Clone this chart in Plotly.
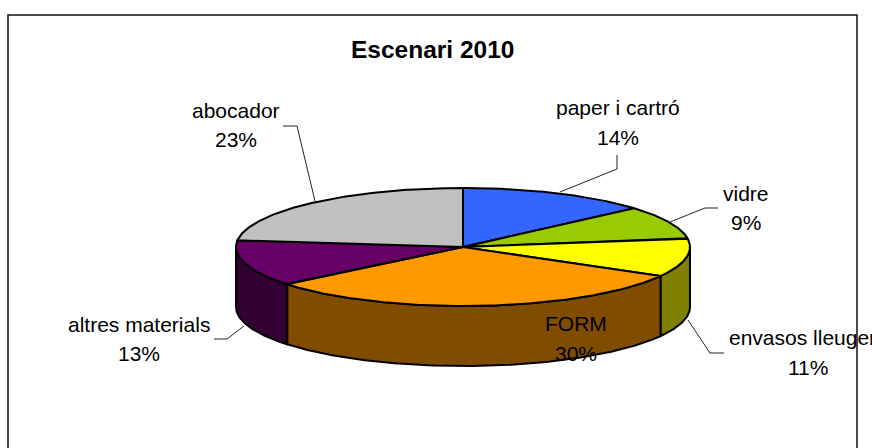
import math
import plotly.graph_objects as go

# Data
categories = ["paper i cartró", "vidre", "envasos lleugers", "FORM", "altres materials", "abocador"]
values = [13.6, 9.0, 10.6, 30.9, 12.7, 23.2]
percent_labels = ["14%", "9%", "11%", "30%", "13%", "23%"]
title_text = "Escenari 2010"

# Style
top_colors = ["#3366FF", "#99CC00", "#FFFF00", "#FF9900", "#660066", "#C0C0C0"]
side_colors = ["#1A3380", "#4D6600", "#808000", "#804D00", "#330033", "#606060"]
CX, CY, RX, RY, DEPTH = 463, 247, 227, 59, 60
FONT = "Liberation Sans, Arial, sans-serif"
FS = 21
LINE_GAP = 14.7
label_pos = [(618, 122.5), (746, 208), (808, 352.5), (576, 338.5), (139, 339), (236, 125)]
leaders = [
    [(560, 192), (617, 169), (617, 155)],
    [(670, 222), (705, 208), (718, 208)],
    [(688, 320), (710, 353), (724, 353)],
    None,
    [(244, 326), (227, 339), (214, 339)],
    [(315, 201), (297, 126), (283, 126)],
]


def pt(theta, dz=0):
    return CX + RX * math.sin(theta), CY - RY * math.cos(theta) + dz


def arc(a, b, dz=0, n=None):
    n = n or max(2, int(abs(b - a) / 0.01))
    return [pt(a + (b - a) * i / n, dz) for i in range(n + 1)]


total = sum(values)
bounds = [0.0]
for v in values:
    bounds.append(bounds[-1] + 2 * math.pi * v / total)

fig = go.Figure()

# side walls: only the front half (theta 90..270 deg) is visible
for i in range(len(values)):
    a = max(bounds[i], math.pi / 2)
    b = min(bounds[i + 1], 3 * math.pi / 2)
    if b <= a:
        continue
    poly = arc(a, b) + arc(b, a, DEPTH)
    poly.append(poly[0])
    fig.add_trace(go.Scatter(
        x=[p[0] for p in poly], y=[p[1] for p in poly], mode="lines", fill="toself",
        fillcolor=side_colors[i], line=dict(color="black", width=2),
        hoverinfo="skip", showlegend=False))

# top faces
for i, name in enumerate(categories):
    poly = [(CX, CY)] + arc(bounds[i], bounds[i + 1]) + [(CX, CY)]
    fig.add_trace(go.Scatter(
        x=[p[0] for p in poly], y=[p[1] for p in poly], mode="lines", fill="toself",
        fillcolor=top_colors[i], line=dict(color="black", width=2),
        name=name, hoverinfo="name", showlegend=False))

# leader lines
for seg in leaders:
    if seg:
        fig.add_trace(go.Scatter(
            x=[p[0] for p in seg], y=[p[1] for p in seg], mode="lines",
            line=dict(color="#222222", width=1), hoverinfo="skip", showlegend=False))

# frame (open at the bottom of the window)
fig.add_trace(go.Scatter(
    x=[8, 8, 857, 857], y=[452, 15, 15, 452], mode="lines",
    line=dict(color="#111111", width=1.5), hoverinfo="skip", showlegend=False))

annotations = [dict(x=432, y=49, text=f"<b>{title_text}</b>", showarrow=False, xanchor="center", yanchor="middle",
                    font=dict(family=FONT, size=24.5, color="black"))]
for name, pct, (x, y) in zip(categories, percent_labels, label_pos):
    for text, yy in ((name, y - LINE_GAP), (pct, y + LINE_GAP)):
        annotations.append(dict(x=x, y=yy, text=text, showarrow=False, xanchor="center", yanchor="middle",
                                align="center", font=dict(family=FONT, size=FS, color="black")))

fig.update_layout(
    width=872, height=448, margin=dict(l=0, r=0, t=0, b=0),
    paper_bgcolor="white", plot_bgcolor="white", showlegend=False,
    xaxis=dict(range=[0, 872], visible=False, fixedrange=True),
    yaxis=dict(range=[448, 0], visible=False, fixedrange=True),
    annotations=annotations,
)
fig.write_html("out.html", config={"displayModeBar": False},
               post_script="document.body.style.margin='0';document.body.style.overflow='hidden';")
